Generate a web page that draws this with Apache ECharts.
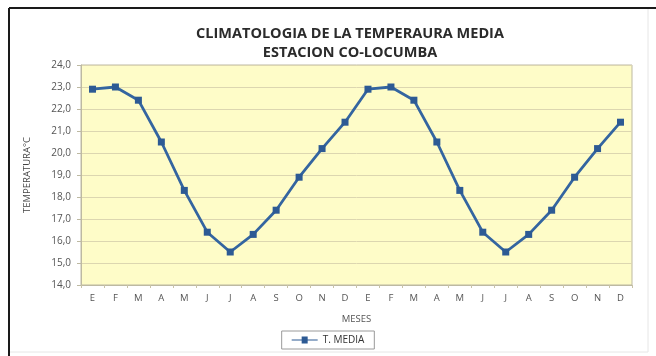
<!DOCTYPE html>
<html>
<head>
<meta charset="utf-8">
<script src="https://cdn.jsdelivr.net/npm/echarts@6/dist/echarts.min.js"></script>
<style>
  html, body { margin: 0; padding: 0; background: #fff; }
  #chart { width: 656px; height: 356px; }
</style>
</head>
<body>
<div id="chart"></div>
<script>
// Months over two consecutive years (Spanish initials)
const meses = ['E','F','M','A','M','J','J','A','S','O','N','D',
               'E','F','M','A','M','J','J','A','S','O','N','D'];
// Mean temperature (°C), monthly climatology repeated for two cycles
const tMedia = [22.9, 23.0, 22.4, 20.5, 18.3, 16.4, 15.5, 16.3, 17.4, 18.9, 20.2, 21.4,
                22.9, 23.0, 22.4, 20.5, 18.3, 16.4, 15.5, 16.3, 17.4, 18.9, 20.2, 21.4];
const yMin = 14, yMax = 24, yStep = 1;

const font = '"Open Sans", "Liberation Sans", sans-serif';
const chart = echarts.init(document.getElementById('chart'), null, { renderer: 'canvas' });

chart.setOption({
  backgroundColor: '#ffffff',
  animation: false,
  graphic: [
    { type: 'line', shape: { x1: 9, y1: 8, x2: 656, y2: 8 }, style: { stroke: '#1a1a1a', lineWidth: 2 } },
    { type: 'line', shape: { x1: 9, y1: 8, x2: 9, y2: 356 }, style: { stroke: '#1a1a1a', lineWidth: 2 } },
    { type: 'line', shape: { x1: 648, y1: 9, x2: 648, y2: 352 }, style: { stroke: '#e6e6e6', lineWidth: 1 } },
    { type: 'line', shape: { x1: 10, y1: 352, x2: 648, y2: 352 }, style: { stroke: '#e6e6e6', lineWidth: 1 } }
  ],
  title: {
    text: 'CLIMATOLOGIA DE LA TEMPERAURA MEDIA\nESTACION CO-LOCUMBA',
    left: 345, top: 19, textAlign: 'center',
    textStyle: { fontFamily: font, fontWeight: 'bold', fontSize: 14.5, lineHeight: 19, color: '#2b2b2b' }
  },
  legend: {
    bottom: 7, left: 'center',
    itemWidth: 26, itemHeight: 8,
    padding: [4, 10],
    borderColor: '#9a9a9a', borderWidth: 1,
    textStyle: { fontFamily: font, fontSize: 10, color: '#333' },
    data: [{ name: 'T. MEDIA', icon: 'path://M0,4 L26,4 L26,5 L0,5 Z M10,1 L16,1 L16,8 L10,8 Z' }]
  },
  grid: { left: 81, right: 24, top: 65, bottom: 71, show: true, backgroundColor: '#fefcc8', borderColor: '#bdb9a2', borderWidth: 1 },
  xAxis: {
    type: 'category', data: meses, boundaryGap: true,
    name: 'MESES', nameLocation: 'middle', nameGap: 29,
    nameTextStyle: { fontFamily: font, fontSize: 9.5, color: '#555' },
    axisLine: { lineStyle: { color: '#bdb9a2' } },
    axisTick: { show: true, interval: 0, length: 3, lineStyle: { color: '#c8c3a8' } },
    axisLabel: { interval: 0, fontFamily: font, fontSize: 9.5, color: '#555', margin: 8 }
  },
  yAxis: {
    type: 'value', min: yMin, max: yMax, interval: yStep,
    name: 'TEMPERATURA°C', nameLocation: 'middle', nameGap: 49, nameRotate: 90,
    nameTextStyle: { fontFamily: font, fontSize: 9.5, color: '#444' },
    axisLine: { show: true, lineStyle: { color: '#bdb9a2' } },
    axisTick: { show: true, length: 4, lineStyle: { color: '#bdb9a2' } },
    axisLabel: { fontFamily: font, fontSize: 10, color: '#555', margin: 10,
      formatter: v => v.toFixed(1).replace('.', ',') },
    splitLine: { lineStyle: { color: '#dcd6b0', width: 1 } }
  },
  series: [{
    name: 'T. MEDIA', type: 'line', data: tMedia,
    symbol: 'rect', symbolSize: 7,
    lineStyle: { color: '#3465a0', width: 2.8 },
    itemStyle: { color: '#2d5a94' }
  }]
});
</script>
</body>
</html>
